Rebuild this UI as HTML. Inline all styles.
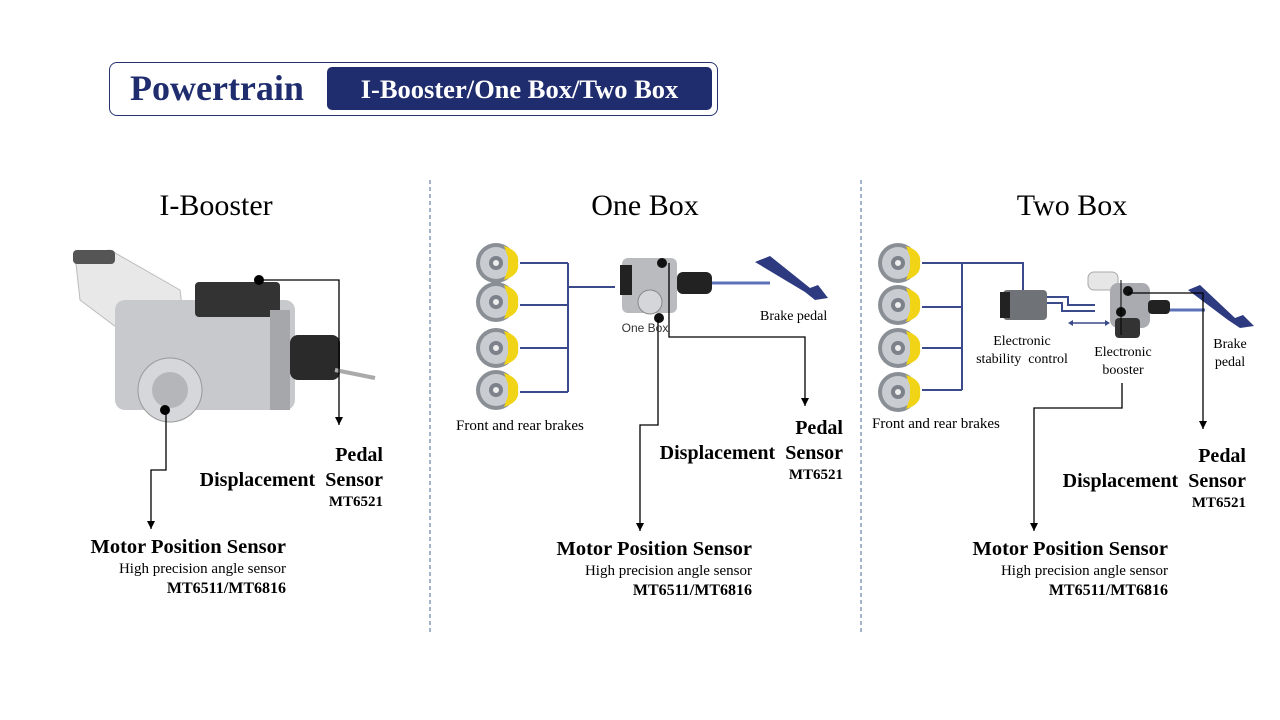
<!DOCTYPE html>
<html><head><meta charset="utf-8"><style>
body{margin:0;width:1280px;height:720px;background:#fff;overflow:hidden;position:relative;font-family:"Liberation Serif",serif;}
.t{position:absolute;white-space:nowrap;color:#000;}
.r{text-align:right;}
.b{font-weight:bold;}
</style></head><body>
<div style="position:absolute;left:109px;top:62px;width:607px;height:52px;border:1.5px solid #26336e;border-radius:8px;"></div>
<div class="t b" style="left:130px;top:67px;font-size:36px;color:#1f2c6e;">Powertrain</div>
<div style="position:absolute;left:327px;top:67px;width:385px;height:43px;background:#1f2c6e;border-radius:5px;"></div>
<div class="t b" style="left:327px;top:74px;width:385px;text-align:center;font-size:26.5px;color:#fff;">I-Booster/One Box/Two Box</div>

<div class="t" style="left:116px;top:189px;width:200px;text-align:center;font-size:30px;">I-Booster</div>
<div class="t" style="left:545px;top:189px;width:200px;text-align:center;font-size:30px;">One Box</div>
<div class="t" style="left:972px;top:189px;width:200px;text-align:center;font-size:30px;">Two Box</div>

<svg width="1280" height="720" style="position:absolute;left:0;top:0">
<defs>
<marker id="a" markerWidth="8" markerHeight="8" refX="8" refY="4" orient="auto" markerUnits="userSpaceOnUse"><path d="M0,0 L8,4 L0,8z" fill="#000"/></marker>
<g id="disc"><circle cx="0" cy="0" r="20" fill="#8a8f96"/><circle cx="0" cy="0" r="16" fill="#c9ccd1"/><circle cx="0" cy="0" r="7" fill="#7d828a"/><circle cx="0" cy="0" r="3" fill="#eee"/><path d="M8,-17 Q24,-12 22,0 Q24,12 8,17 L12,6 L12,-6z" fill="#f2d416"/></g>
</defs>
<line x1="430" y1="180" x2="430" y2="632" stroke="#4a6a9a" stroke-dasharray="4,3"/>
<line x1="861" y1="180" x2="861" y2="632" stroke="#4a6a9a" stroke-dasharray="4,3"/>

<path d="M75,255 L110,250 L180,290 L185,330 L120,330 L80,300z" fill="#e8e8e8" stroke="#bbb"/>
<rect x="73" y="250" width="42" height="14" rx="4" fill="#555"/>
<rect x="115" y="300" width="180" height="110" rx="10" fill="#c8c9cc"/>
<rect x="195" y="282" width="85" height="35" rx="4" fill="#333"/>
<rect x="270" y="310" width="20" height="100" fill="#a5a7ab"/>
<rect x="290" y="335" width="50" height="45" rx="8" fill="#2a2a2a"/>
<line x1="335" y1="370" x2="375" y2="378" stroke="#aaa" stroke-width="4"/>
<circle cx="170" cy="390" r="32" fill="#d6d7da" stroke="#999"/>
<circle cx="170" cy="390" r="18" fill="#b4b6ba"/>
<circle cx="259" cy="280" r="5" fill="#000"/>
<circle cx="165" cy="410" r="5" fill="#000"/>
<polyline points="259,280 339,280 339,425" fill="none" stroke="#000" stroke-width="1.3" marker-end="url(#a)"/>
<polyline points="166,410 166,470 151,470 151,529" fill="none" stroke="#000" stroke-width="1.3" marker-end="url(#a)"/>

<use href="#disc" x="496" y="263"/><use href="#disc" x="496" y="302"/><use href="#disc" x="496" y="348"/><use href="#disc" x="496" y="390"/>
<g stroke="#3a4a8a" stroke-width="2" fill="none">
<line x1="520" y1="263" x2="568" y2="263"/><line x1="520" y1="305" x2="568" y2="305"/><line x1="520" y1="348" x2="568" y2="348"/><line x1="520" y1="392" x2="568" y2="392"/>
<line x1="568" y1="263" x2="568" y2="392"/><line x1="568" y1="287" x2="615" y2="287"/>
</g>
<rect x="622" y="258" width="55" height="55" rx="6" fill="#b9bbbf"/>
<rect x="620" y="265" width="12" height="30" fill="#222"/>
<circle cx="650" cy="302" r="12" fill="#d5d6d9" stroke="#888"/>
<rect x="677" y="272" width="35" height="22" rx="6" fill="#222"/>
<line x1="712" y1="283" x2="770" y2="283" stroke="#5b72b8" stroke-width="3"/>
<path d="M755,262 L770,256 L810,288 L818,285 L828,298 L815,300 L805,292z" fill="#2d3a80"/>
<circle cx="662" cy="263" r="5" fill="#111"/><circle cx="659" cy="318" r="5" fill="#111"/>
<polyline points="669,263 669,337 805,337 805,406" fill="none" stroke="#000" stroke-width="1.3" marker-end="url(#a)"/>
<polyline points="658,320 658,425 640,425 640,531" fill="none" stroke="#000" stroke-width="1.3" marker-end="url(#a)"/>
<text x="645" y="332" font-family="Liberation Sans, sans-serif" font-size="12" text-anchor="middle" fill="#333">One Box</text>

<use href="#disc" x="898" y="263"/><use href="#disc" x="898" y="305"/><use href="#disc" x="898" y="348"/><use href="#disc" x="898" y="392"/>
<g stroke="#3a4a8a" stroke-width="2" fill="none">
<line x1="922" y1="263" x2="962" y2="263"/><line x1="922" y1="307" x2="962" y2="307"/><line x1="922" y1="348" x2="962" y2="348"/><line x1="922" y1="390" x2="962" y2="390"/>
<line x1="962" y1="263" x2="962" y2="390"/><polyline points="962,263 1023,263 1023,292"/>
<polyline points="1045,297 1068,297 1068,305 1095,305"/><polyline points="1045,303 1062,303 1062,311 1095,311"/>
</g>
<rect x="1003" y="290" width="44" height="30" rx="4" fill="#6f7277"/>
<rect x="1000" y="292" width="10" height="26" fill="#222"/>
<rect x="1088" y="272" width="30" height="18" rx="6" fill="#e6e6e6" stroke="#aaa"/>
<rect x="1110" y="283" width="40" height="45" rx="8" fill="#a9abb0"/>
<rect x="1115" y="318" width="25" height="20" rx="4" fill="#333"/>
<rect x="1148" y="300" width="22" height="14" rx="4" fill="#222"/>
<line x1="1170" y1="310" x2="1205" y2="310" stroke="#5b72b8" stroke-width="3"/>
<path d="M1188,290 L1200,285 L1235,318 L1243,315 L1254,326 L1240,328 L1228,320z" fill="#2d3a80"/>
<line x1="1070" y1="323" x2="1108" y2="323" stroke="#3a4a8a" stroke-width="1.5"/>
<path d="M1068,323 l5,-3 v6z M1110,323 l-5,-3 v6z" fill="#3a4a8a"/>
<circle cx="1128" cy="291" r="5" fill="#111"/><circle cx="1121" cy="312" r="5" fill="#111"/>
<polyline points="1128,293 1203,293 1203,429" fill="none" stroke="#000" stroke-width="1.3" marker-end="url(#a)"/>
<line x1="1121" y1="280" x2="1121" y2="335" stroke="#000" stroke-width="1"/>
<polyline points="1122,383 1122,408 1034,408 1034,531" fill="none" stroke="#000" stroke-width="1.3" marker-end="url(#a)"/>
</svg>

<div class="t" style="left:760px;top:309px;font-size:14px;">Brake pedal</div>
<div class="t" style="left:456px;top:418px;font-size:15px;">Front and rear brakes</div>
<div class="t" style="left:872px;top:416px;font-size:15px;">Front and rear brakes</div>
<div class="t" style="left:962px;top:333px;width:120px;text-align:center;font-size:14px;line-height:18px;">Electronic<br>stability&nbsp; control</div>
<div class="t" style="left:1073px;top:344px;width:100px;text-align:center;font-size:14px;line-height:18px;">Electronic<br>booster</div>
<div class="t" style="left:1190px;top:336px;width:80px;text-align:center;font-size:14px;line-height:18px;">Brake<br>pedal</div>

<div class="t r b" style="left:133px;width:250px;top:443px;font-size:20px;line-height:25px;">Pedal<br>Displacement&nbsp; Sensor</div>
<div class="t r b" style="left:183px;width:200px;top:494px;font-size:15px;">MT6521</div>
<div class="t r" style="left:20px;width:266px;top:537px;line-height:20px;"><b style="font-size:20.5px;">Motor Position Sensor</b><br><span style="font-size:15px;">High precision angle sensor</span><br><b style="font-size:16px;">MT6511/MT6816</b></div>

<div class="t r b" style="left:593px;width:250px;top:416px;font-size:20px;line-height:25px;">Pedal<br>Displacement&nbsp; Sensor</div>
<div class="t r b" style="left:643px;width:200px;top:467px;font-size:15px;">MT6521</div>
<div class="t r" style="left:486px;width:266px;top:539px;line-height:20px;"><b style="font-size:20.5px;">Motor Position Sensor</b><br><span style="font-size:15px;">High precision angle sensor</span><br><b style="font-size:16px;">MT6511/MT6816</b></div>

<div class="t r b" style="left:996px;width:250px;top:444px;font-size:20px;line-height:25px;">Pedal<br>Displacement&nbsp; Sensor</div>
<div class="t r b" style="left:1046px;width:200px;top:495px;font-size:15px;">MT6521</div>
<div class="t r" style="left:902px;width:266px;top:539px;line-height:20px;"><b style="font-size:20.5px;">Motor Position Sensor</b><br><span style="font-size:15px;">High precision angle sensor</span><br><b style="font-size:16px;">MT6511/MT6816</b></div>
</body></html>
